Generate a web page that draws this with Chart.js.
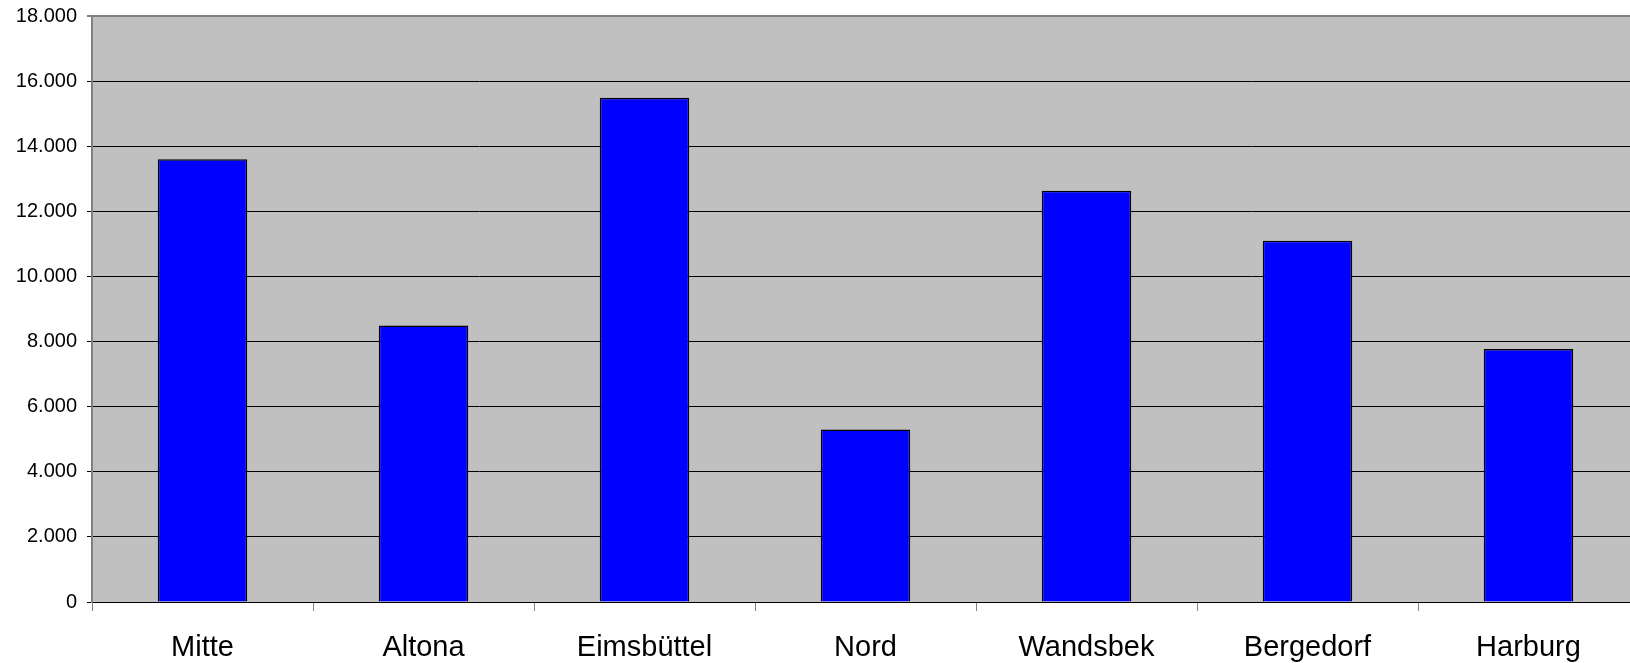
<!DOCTYPE html>
<html>
<head>
<meta charset="utf-8">
<script src="https://cdn.jsdelivr.net/npm/chart.js@4/dist/chart.umd.min.js"></script>
<style>
  html, body { margin: 0; padding: 0; background: #fff; overflow: hidden; }
  #wrap { width: 1639px; height: 663px; }
</style>
</head>
<body>
<div id="wrap"><canvas id="chart" width="1639" height="663"></canvas></div>
<script>
const districts = ['Mitte', 'Altona', 'Eimsbüttel', 'Nord', 'Wandsbek', 'Bergedorf', 'Harburg'];
const values = [13600, 8490, 15490, 5300, 12630, 11100, 7770];
const yMax = 18000;
const yStep = 2000;

function germanThousands(v) {
    return String(v).replace(/\B(?=(\d{3})+(?!\d))/g, '.');
}

const plotBackground = {
    id: 'plotBackground',
    beforeDraw(chart) {
        const { ctx, chartArea } = chart;
        ctx.save();
        ctx.fillStyle = '#C0C0C0';
        ctx.fillRect(chartArea.left, chartArea.top, chartArea.right - chartArea.left, chartArea.bottom - chartArea.top);
        ctx.restore();
    }
};

new Chart('chart', {
    type: 'bar',
    data: {
        labels: districts,
        datasets: [{
            data: values,
            backgroundColor: '#0000FF',
            borderColor: '#000000',
            borderWidth: 1.5,
            barPercentage: 0.405,
            categoryPercentage: 1
        }]
    },
    plugins: [plotBackground],
    options: {
        responsive: false,
        animation: false,
        layout: { padding: { top: 16, right: 0, bottom: 0, left: 0 } },
        plugins: {
            legend: { display: false },
            tooltip: { enabled: false }
        },
        scales: {
            x: {
                afterFit: axis => { axis.height = 61; axis.paddingLeft = 0; axis.paddingRight = 0; },
                grid: {
                    offset: true,
                    drawOnChartArea: false,
                    drawTicks: true,
                    tickLength: 9,
                    color: '#808080'
                },
                border: { color: '#000000', width: 1 },
                ticks: {
                    color: '#000000',
                    padding: 20,
                    font: { family: '"Liberation Sans", Arial, sans-serif', size: 29 }
                }
            },
            y: {
                min: 0,
                max: yMax,
                afterFit: axis => { axis.width = 92; axis.paddingTop = 0; axis.paddingBottom = 0; },
                grid: {
                    color: ctx => ctx.tick && ctx.tick.value === yMax ? '#808080' : '#000000',
                    lineWidth: ctx => ctx.tick && ctx.tick.value === yMax ? 2 : 1,
                    tickLength: 5
                },
                border: { color: '#808080', width: 2 },
                ticks: {
                    stepSize: yStep,
                    color: '#000000',
                    padding: 10,
                    font: { family: '"Liberation Sans", Arial, sans-serif', size: 20 },
                    callback: v => germanThousands(v)
                }
            }
        }
    }
});
</script>
</body>
</html>
